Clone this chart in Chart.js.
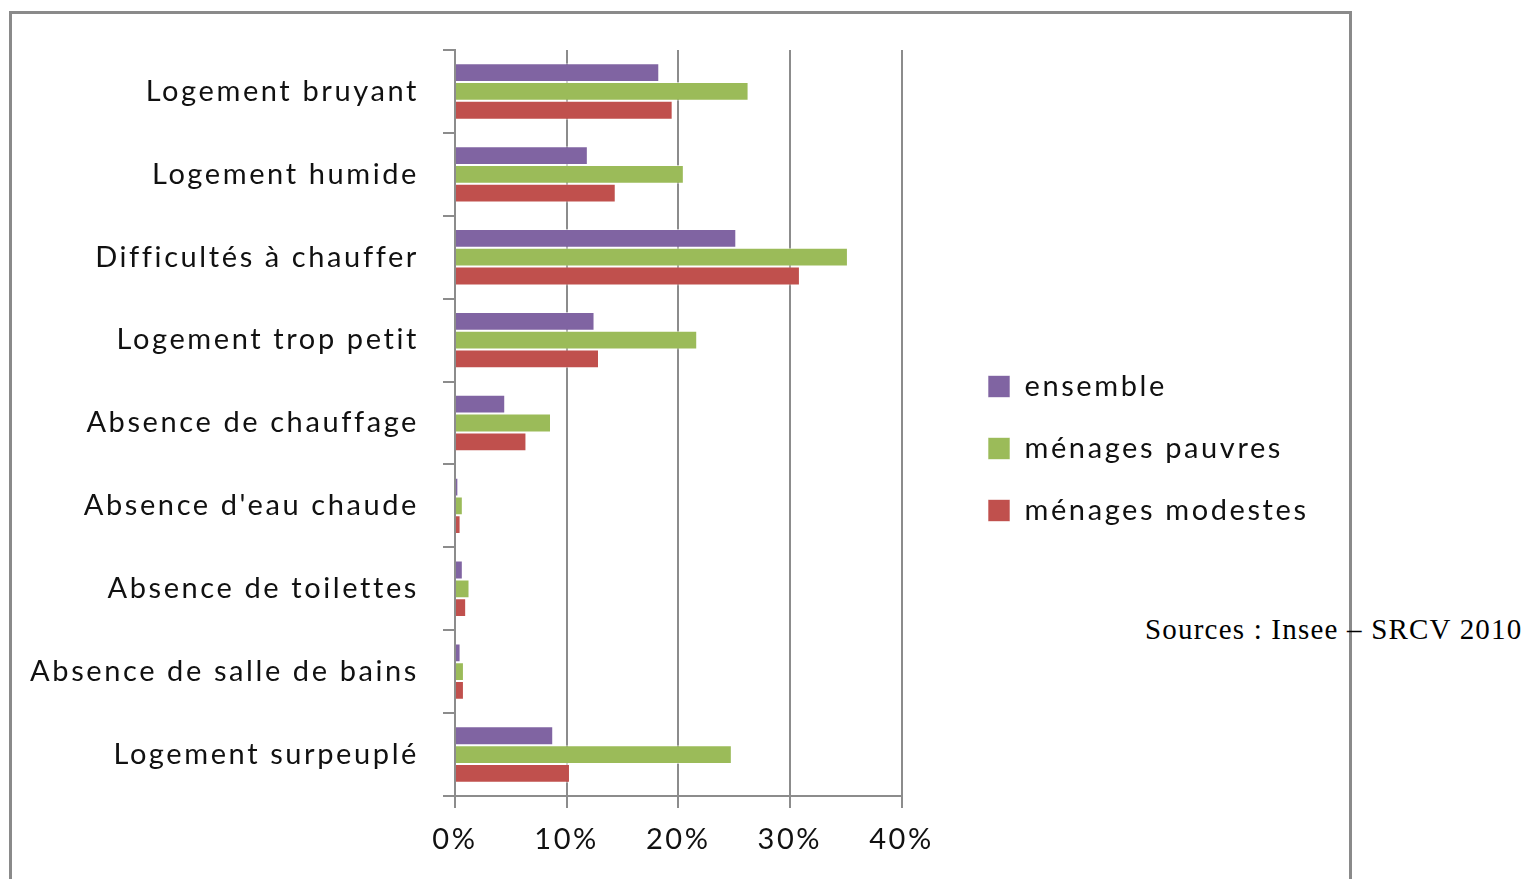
<!DOCTYPE html>
<html>
<head>
<meta charset="utf-8">
<script src="https://cdn.jsdelivr.net/npm/chart.js@4.4.1/dist/chart.umd.min.js"></script>
<style>
  html, body { margin: 0; padding: 0; background: #fff; }
  body { width: 1528px; height: 879px; position: relative; overflow: hidden; }
  #frame {
    position: absolute; left: 9px; top: 11px; width: 1337px; height: 900px;
    border: 3px solid #8a8a8a; border-bottom: none;
  }
  #chartBox { position: absolute; left: 0; top: 0; width: 1528px; height: 879px; }
  #source {
    position: absolute; left: 1145px; top: 613px;
    font-family: "Liberation Serif", serif; font-size: 29px; color: #000;
    letter-spacing: 1.2px; white-space: nowrap;
  }
</style>
</head>
<body>
<div id="frame"></div>
<div id="source">Sources : Insee – SRCV 2010</div>
<div id="chartBox"><canvas id="myChart"></canvas></div>
<script>
// categories and series (in %)
const categories = [
  "Logement bruyant",
  "Logement humide",
  "Difficultés à chauffer",
  "Logement trop petit",
  "Absence de chauffage",
  "Absence d'eau chaude",
  "Absence de toilettes",
  "Absence de salle de bains",
  "Logement surpeuplé"
];
const ensemble = [18.3, 11.9, 25.2, 12.5, 4.5, 0.3, 0.7, 0.5, 8.8];
const menagesPauvres = [26.3, 20.5, 35.2, 21.7, 8.6, 0.7, 1.3, 0.8, 24.8];
const menagesModestes = [19.5, 14.4, 30.9, 12.9, 6.4, 0.5, 1.0, 0.8, 10.3];
const xTicks = [0, 10, 20, 30, 40];

const labelFont = { family: "Lato, 'Open Sans', sans-serif", size: 29 };
const gridColor = "#8c8c8c";

// old office text is drawn a little looser, and the legend sits further right
const layoutPlugin = {
  id: "looseText",
  beforeUpdate(chart) { chart.ctx.letterSpacing = "2.6px"; },
  beforeDraw(chart) { chart.ctx.letterSpacing = "2.6px"; },
  afterLayout(chart) {
    let lg = chart.legend;
    lg.left = 955;
    lg.right = 1528;
    lg.width = lg.right - lg.left;
    lg.top -= 16;
    lg.bottom -= 16;
  }
};

let ctx = document.getElementById("myChart").getContext("2d");
let chart = new Chart(ctx, {
  type: "bar",
  data: {
    labels: categories,
    datasets: [
      { label: "ensemble", data: ensemble, backgroundColor: "#8064A2", borderColor: "rgba(255,255,255,0.6)", borderWidth: 1 },
      { label: "ménages pauvres", data: menagesPauvres, backgroundColor: "#9BBB59", borderColor: "rgba(255,255,255,0.6)", borderWidth: 1 },
      { label: "ménages modestes", data: menagesModestes, backgroundColor: "#C0504D", borderColor: "rgba(255,255,255,0.6)", borderWidth: 1 }
    ]
  },
  options: {
    indexAxis: "y",
    responsive: true,
    maintainAspectRatio: false,
    animation: false,
    layout: { padding: { left: 0, top: 50, right: 326, bottom: 0 } },
    datasets: { bar: { categoryPercentage: 0.68, barPercentage: 1.0 } },
    plugins: {
      tooltip: { enabled: false },
      legend: {
        position: "right",
        align: "center",
        labels: {
          font: labelFont,
          color: "#111",
          boxWidth: 22,
          boxHeight: 22,
          padding: 33
        }
      }
    },
    scales: {
      x: {
        min: 0,
        max: 40,
        afterBuildTicks(scale) { scale.ticks = xTicks.map(v => ({ value: v })); },
        afterFit(scale) { scale.height = 83; },
        ticks: {
          font: labelFont,
          color: "#111",
          padding: 14,
          callback: v => v + "%"
        },
        grid: { color: gridColor, lineWidth: 2, tickLength: 12, tickColor: gridColor },
        border: { color: gridColor, width: 2 }
      },
      y: {
        afterFit(scale) { scale.width = 455; },
        ticks: { font: labelFont, color: "#111", padding: 24 },
        grid: { offset: true, drawOnChartArea: false, color: gridColor, lineWidth: 2, tickLength: 12 },
        border: { color: gridColor, width: 2 }
      }
    }
  },
  plugins: [layoutPlugin]
});
</script>
</body>
</html>
